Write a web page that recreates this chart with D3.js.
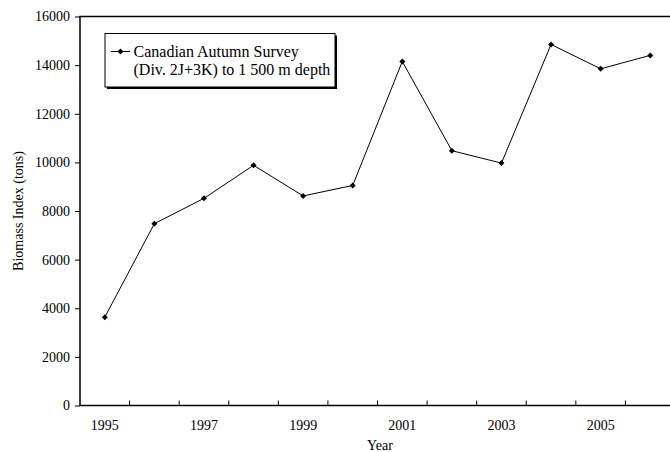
<!DOCTYPE html>
<html>
<head>
<meta charset="utf-8">
<script src="https://cdn.jsdelivr.net/npm/d3@7"></script>
<style>
  html, body { margin: 0; padding: 0; background: #fff; }
  svg text { font-family: "Liberation Serif", "Times New Roman", serif; fill: #000; }
</style>
</head>
<body>
<svg id="chart" width="670" height="452"></svg>
<script>
// data
const years = ["1995", "1996", "1997", "1998", "1999", "2000", "2001", "2002", "2003", "2004", "2005", "2006"];
const biomass = [3630, 7480, 8520, 9880, 8620, 9050, 14150, 10480, 9970, 14850, 13850, 14400];
const yTicks = [0, 2000, 4000, 6000, 8000, 10000, 12000, 14000, 16000];
const xLabels = ["1995", "1997", "1999", "2001", "2003", "2005"];
const seriesName = ["Canadian Autumn Survey", "(Div. 2J+3K) to 1 500 m depth"];

const serif = "'Liberation Serif', 'Times New Roman', serif";
const plot = { left: 80, top: 16.5, right: 675, bottom: 405.5 };

const svg = d3.select("#chart");

const x = d3.scaleBand().domain(years).range([plot.left, plot.right]).padding(0);
const y = d3.scaleLinear().domain([0, 16000]).range([plot.bottom, plot.top]);

// plot frame
svg.append("rect")
  .attr("x", plot.left)
  .attr("y", plot.top)
  .attr("width", plot.right - plot.left)
  .attr("height", plot.bottom - plot.top)
  .attr("fill", "none")
  .attr("stroke", "#000")
  .attr("stroke-width", 1.5);

/* ---------- Y axis ---------- */
const yAxis = svg.append("g")
  .attr("transform", `translate(${plot.left},0)`)
  .call(d3.axisLeft(y).tickValues(yTicks).tickSize(5).tickPadding(5).tickFormat(d3.format("d")));
yAxis.attr("font-family", serif).attr("font-size", 14);
yAxis.select(".domain").remove();
yAxis.selectAll("line").attr("stroke", "#000").attr("stroke-width", 1);
yAxis.selectAll("text").attr("font-family", serif).attr("font-size", "14px");

/* ---------- X axis: ticks between categories, labels every other year ---------- */
const boundaries = years.slice(1).map((d) => x(d));
svg.append("g")
  .selectAll("line")
  .data(boundaries)
  .join("line")
  .attr("x1", (d) => d)
  .attr("x2", (d) => d)
  .attr("y1", plot.bottom)
  .attr("y2", plot.bottom - 5)
  .attr("stroke", "#000")
  .attr("stroke-width", 1);

svg.append("g")
  .selectAll("text")
  .data(xLabels)
  .join("text")
  .attr("x", (d) => x(d) + x.bandwidth() / 2)
  .attr("y", 429.5)
  .attr("text-anchor", "middle")
  .attr("font-family", serif)
  .attr("font-size", "14px")
  .text((d) => d);

// axis titles
svg.append("text")
  .attr("x", 380)
  .attr("y", 450)
  .attr("text-anchor", "middle")
  .attr("font-family", serif)
  .attr("font-size", "14px")
  .text("Year");

svg.append("text")
  .attr("transform", "rotate(-90)")
  .attr("x", -211)
  .attr("y", 23)
  .attr("text-anchor", "middle")
  .attr("font-family", serif)
  .attr("font-size", "14px")
  .text("Biomass Index (tons)");

/* ---------- Series ---------- */
const pts = years.map((yr, i) => ({ year: yr, value: biomass[i] }));

const line = d3.line()
  .x((d) => x(d.year) + x.bandwidth() / 2)
  .y((d) => y(d.value));

svg.append("path")
  .datum(pts)
  .attr("fill", "none")
  .attr("stroke", "#000")
  .attr("stroke-width", 1)
  .attr("d", line);

const diamond = d3.symbol().type(d3.symbolSquare).size(18);

svg.append("g")
  .selectAll("path")
  .data(pts)
  .join("path")
  .attr("d", diamond)
  .attr("transform", (d) => `translate(${x(d.year) + x.bandwidth() / 2},${y(d.value)}) rotate(45)`)
  .attr("fill", "#000");

/* ---------- Legend ---------- */
const lg = svg.append("g");
// drop shadow
lg.append("rect")
  .attr("x", 107).attr("y", 35.5)
  .attr("width", 230).attr("height", 53.5)
  .attr("fill", "#000");
lg.append("rect")
  .attr("x", 105).attr("y", 33.5)
  .attr("width", 230).attr("height", 53.5)
  .attr("fill", "#fff")
  .attr("stroke", "#000")
  .attr("stroke-width", 1);

lg.append("line")
  .attr("x1", 111).attr("x2", 130)
  .attr("y1", 51.5).attr("y2", 51.5)
  .attr("stroke", "#000").attr("stroke-width", 1);
lg.append("path")
  .attr("d", diamond)
  .attr("transform", "translate(120.5,51.5) rotate(45)")
  .attr("fill", "#000");

lg.selectAll("text.leg")
  .data(seriesName)
  .join("text")
  .attr("class", "leg")
  .attr("x", 133.5)
  .attr("y", (d, i) => 57 + i * 18)
  .attr("font-family", serif)
  .attr("font-size", "16px")
  .text((d) => d);
</script>
</body>
</html>
